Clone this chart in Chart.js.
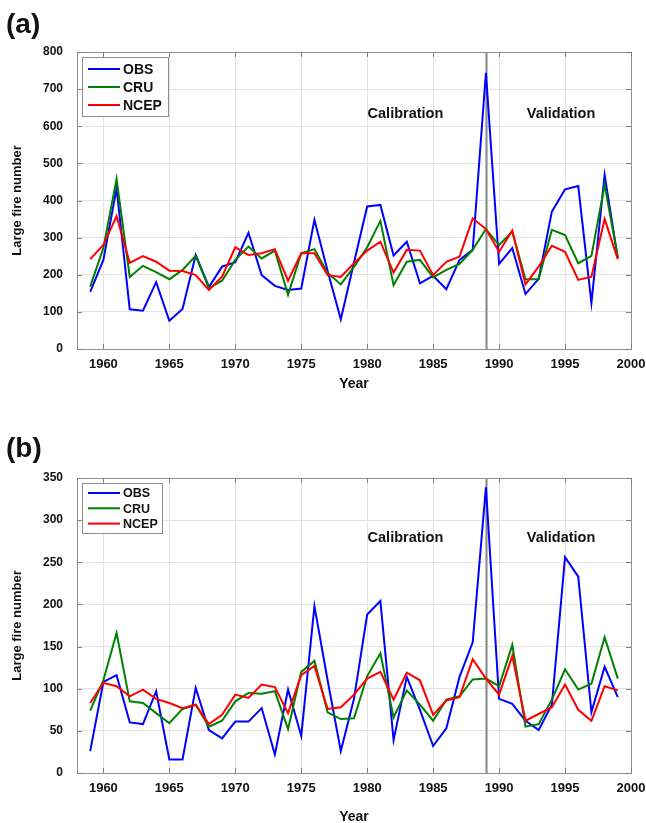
<!DOCTYPE html>
<html>
<head>
<meta charset="utf-8">
<title>Large fire number</title>
<script src="https://cdn.jsdelivr.net/npm/chart.js@4.4.1/dist/chart.umd.min.js"></script>
<style>
  html, body { margin: 0; padding: 0; background: #fff; overflow: hidden; }
  #wrap { position: relative; width: 646px; height: 823px; }
  canvas { position: absolute; left: 0; }
</style>
</head>
<body>
<div id="wrap">
  <canvas id="chartA" width="646" height="411" style="top:0"></canvas>
  <canvas id="chartB" width="646" height="420" style="top:411px"></canvas>
</div>
<script>
// years on the x axis
const years = [1959, 1960, 1961, 1962, 1963, 1964, 1965, 1966, 1967, 1968,
  1969, 1970, 1971, 1972, 1973, 1974, 1975, 1976, 1977, 1978,
  1979, 1980, 1981, 1982, 1983, 1984, 1985, 1986, 1987, 1988,
  1989, 1990, 1991, 1992, 1993, 1994, 1995, 1996, 1997, 1998, 1999];

// panel (a)
const obsA = [154, 240, 433, 107, 103, 180, 76, 108, 253, 167,
  222, 234, 313, 199, 170, 159, 163, 348, 210, 80,
  233, 384, 388, 252, 289, 177, 197, 161, 240, 267,
  744, 229, 272, 148, 189, 370, 430, 439, 124, 469, 244];
const cruA = [168, 272, 458, 194, 224, 207, 188, 213, 251, 164,
  184, 240, 276, 244, 265, 146, 258, 269, 205, 174,
  221, 274, 345, 172, 235, 240, 193, 213, 229, 267,
  323, 280, 316, 188, 188, 321, 307, 231, 251, 442, 247];
const ncepA = [242, 280, 358, 232, 250, 235, 211, 210, 199, 159,
  195, 274, 253, 258, 269, 184, 258, 258, 199, 194,
  231, 265, 289, 206, 267, 265, 199, 235, 249, 352,
  323, 262, 319, 174, 222, 278, 262, 186, 195, 350, 242];

// panel (b)
const obsB = [26, 108, 116, 60, 58, 97, 16, 16, 101, 51,
  41, 61, 61, 77, 22, 99, 44, 198, 110, 26,
  88, 188, 204, 39, 114, 75, 32, 53, 114, 155,
  339, 88, 82, 62, 51, 81, 256, 233, 72, 126, 90];
const cruB = [74, 110, 166, 85, 83, 71, 59, 76, 81, 55,
  62, 85, 95, 94, 97, 52, 120, 133, 72, 64,
  65, 115, 142, 66, 98, 81, 62, 87, 91, 111,
  112, 103, 152, 55, 58, 87, 123, 99, 106, 161, 112];
const ncepB = [83, 107, 103, 91, 99, 88, 83, 77, 81, 58,
  69, 93, 89, 105, 102, 71, 116, 127, 76, 78,
  93, 112, 120, 87, 119, 110, 69, 86, 90, 135,
  112, 93, 139, 62, 70, 78, 105, 75, 62, 103, 98];

const seriesNames = ['OBS', 'CRU', 'NCEP'];
const seriesColors = ['#0000ff', '#008000', '#ff0000'];
const splitYear = 1989;
const periodLabels = ['Calibration', 'Validation'];

const FONT = '"Liberation Sans", Arial, Helvetica, sans-serif';
Chart.defaults.font.family = FONT;
Chart.defaults.color = '#111';

function line(ctx, x1, y1, x2, y2) {
  ctx.beginPath();
  ctx.moveTo(x1, y1);
  ctx.lineTo(x2, y2);
  ctx.stroke();
}

const decor = {
  id: 'decor',
  beforeDatasetsDraw(chart) {
    const { ctx, chartArea: a, scales: { x } } = chart;
    const px = Math.round(x.getPixelForValue(splitYear)) + 0.5;
    ctx.save();
    ctx.strokeStyle = '#bcbcbc';
    ctx.lineWidth = 3;
    line(ctx, px, a.top, px, a.bottom);
    ctx.strokeStyle = '#8c8c8c';
    ctx.lineWidth = 1;
    line(ctx, px, a.top, px, a.bottom);
    ctx.restore();
  },
  afterDatasetsDraw(chart, args, o) {
    const { ctx, chartArea: a, scales: { x, y } } = chart;
    ctx.save();

    // frame + inner ticks
    ctx.strokeStyle = '#8f8f8f';
    ctx.lineWidth = 1;
    ctx.strokeRect(Math.round(a.left) + 0.5, Math.round(a.top) + 0.5,
      Math.round(a.right - a.left), Math.round(a.bottom - a.top));
    ctx.strokeStyle = '#808080';
    x.ticks.forEach(t => {
      const p = Math.round(x.getPixelForValue(t.value)) + 0.5;
      line(ctx, p, a.top, p, a.top + 5);
      line(ctx, p, a.bottom, p, a.bottom - 5);
    });
    y.ticks.forEach(t => {
      const p = Math.round(y.getPixelForValue(t.value)) + 0.5;
      line(ctx, a.left, p, a.left + 5, p);
      line(ctx, a.right, p, a.right - 5, p);
    });

    // period labels
    ctx.fillStyle = '#111';
    ctx.font = 'bold 14.5px ' + FONT;
    ctx.textAlign = 'center';
    ctx.textBaseline = 'middle';
    o.labelPos.forEach((p, i) => {
      ctx.fillText(periodLabels[i], x.getPixelForValue(p[0]), y.getPixelForValue(p[1]));
    });

    // legend box
    const L = o.legend;
    const bx = a.left + 5, by = a.top + L.top;
    ctx.fillStyle = '#fff';
    ctx.fillRect(bx, by, L.w, L.h);
    ctx.strokeStyle = '#8f8f8f';
    ctx.strokeRect(bx + 0.5, by + 0.5, L.w, L.h);
    ctx.font = 'bold ' + L.size + 'px ' + FONT;
    ctx.textAlign = 'left';
    ctx.lineWidth = 2;
    seriesNames.forEach((name, i) => {
      const ry = by + L.first + i * L.gap;
      ctx.strokeStyle = seriesColors[i];
      line(ctx, bx + 6, ry, bx + 38, ry);
      ctx.fillStyle = '#111';
      ctx.fillText(name, bx + 41, ry + 1);
    });
    ctx.restore();
  },
  afterDraw(chart, args, o) {
    const { ctx } = chart;
    ctx.save();
    ctx.fillStyle = '#111';
    ctx.font = 'bold 28px ' + FONT;
    ctx.textAlign = 'left';
    ctx.textBaseline = 'alphabetic';
    ctx.fillText(o.tag, 6, o.tagBase);
    ctx.restore();
  }
};

function makePanel(id, obs, cru, ncep, cfg) {
  const sets = [obs, cru, ncep].map((vals, i) => ({
    label: seriesNames[i],
    data: years.map((yr, k) => ({ x: yr, y: vals[k] })),
    borderColor: seriesColors[i],
    backgroundColor: seriesColors[i],
    borderWidth: 2,
    pointRadius: 0,
    tension: 0,
    order: 3 - i
  }));

  return new Chart(document.getElementById(id), {
    type: 'line',
    data: { datasets: sets },
    plugins: [decor],
    options: {
      responsive: false,
      animation: false,
      layout: { padding: { left: 0, top: cfg.top, right: 15, bottom: 0 } },
      plugins: {
        legend: { display: false },
        tooltip: { enabled: false },
        decor: { tag: cfg.tag, tagBase: cfg.tagBase, labelPos: cfg.labelPos, legend: cfg.legend }
      },
      scales: {
        x: {
          type: 'linear',
          min: 1958,
          max: 2000,
          afterFit: s => {
            s.height = cfg.xAxisH;
            s.paddingLeft = 0;
            s.paddingRight = 0;
          },
          ticks: {
            stepSize: 5,
            includeBounds: false,
            padding: 8,
            maxRotation: 0,
            color: '#111',
            font: { size: 13, weight: 'bold' },
            callback: v => String(v)
          },
          grid: { color: '#e3e3e3', drawTicks: false },
          border: { display: false },
          title: {
            display: true,
            text: 'Year',
            color: '#111',
            font: { size: 14, weight: 'bold' },
            padding: { top: 0, bottom: cfg.yearPad }
          }
        },
        y: {
          min: 0,
          max: cfg.yMax,
          afterFit: s => {
            s.width = 77;
            s.paddingTop = 0;
            s.paddingBottom = 0;
          },
          ticks: {
            stepSize: cfg.yStep,
            padding: 14,
            color: '#111',
            font: { size: 12, weight: 'bold' }
          },
          grid: { color: '#e3e3e3', drawTicks: false },
          border: { display: false },
          title: {
            display: true,
            text: 'Large fire number',
            color: '#111',
            font: { size: 13, weight: 'bold' },
            padding: { top: 10, bottom: 0 }
          }
        }
      }
    }
  });
}

makePanel('chartA', obsA, cruA, ncepA, {
  tag: '(a)', tagBase: 33, top: 52, xAxisH: 62, yearPad: 18,
  yMax: 800, yStep: 100,
  labelPos: [[1982.9, 633], [1994.7, 633]],
  legend: { top: 5, w: 86, h: 59, size: 14, first: 12, gap: 18 }
});

makePanel('chartB', obsB, cruB, ncepB, {
  tag: '(b)', tagBase: 46, top: 67, xAxisH: 58, yearPad: 5,
  yMax: 350, yStep: 50,
  labelPos: [[1982.9, 279], [1994.7, 279]],
  legend: { top: 5, w: 80, h: 50, size: 12.5, first: 10, gap: 15.3 }
});
</script>
</body>
</html>
